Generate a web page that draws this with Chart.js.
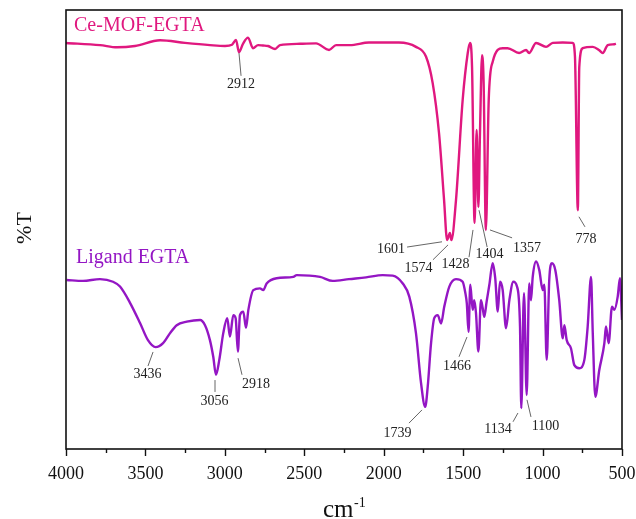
<!DOCTYPE html>
<html>
<head>
<meta charset="utf-8">
<script src="https://cdn.jsdelivr.net/npm/chart.js@4"></script>
<style>
html,body{margin:0;padding:0;background:#fff;}
#wrap{width:636px;height:519px;}
</style>
</head>
<body>
<div id="wrap"><canvas id="c" width="636" height="519"></canvas></div>
<script>
// ---- data (wavenumber cm-1, transmittance arbitrary %) ----
const mofWavenumber = [4000,3786,3679,3566,3408,3251,3094,2999,2955,2930,2911,2886,2854,2823,2791,2760,2728,2684,2653,2527,2426,2344,2300,2212,2093,1904,1797,1734,1692,1652,1620,1601,1583,1574,1545,1503,1471,1457,1444,1428,1415,1404,1394,1381,1371,1357,1339,1314,1251,1220,1148,1104,1085,1041,978,936,873,810,796,778,769,747,684,645,621,590,548,538];
const mofTransmittance = [92.5,92.0,91.5,91.8,93.1,92.5,92.0,91.8,92.1,93.2,90.4,92.3,93.7,91.3,92.0,91.9,91.8,91.1,92.0,92.3,92.4,90.9,92.0,92.0,92.6,92.6,91.6,89.4,83.4,72.0,56.7,47.6,49.2,47.6,56.7,79.5,90.2,92.5,87.0,51.5,72.7,55.1,72.0,89.7,83.4,49.9,79.5,88.2,91.3,91.3,90.2,90.9,90.2,92.5,91.6,92.5,92.6,92.5,89.3,54.4,87.0,91.3,91.6,90.9,90.2,92.0,92.2,92.3];

const ligandWavenumber = [3996,3893,3786,3704,3660,3597,3534,3484,3436,3389,3345,3303,3240,3156,3125,3094,3073,3056,3035,3010,2985,2968,2947,2932,2918,2905,2884,2867,2852,2821,2779,2758,2737,2674,2569,2548,2401,2321,2219,2111,2006,1943,1880,1839,1797,1765,1739,1723,1702,1682,1660,1639,1619,1587,1545,1503,1486,1477,1466,1455,1440,1430,1419,1404,1388,1377,1367,1352,1335,1314,1298,1282,1268,1251,1230,1209,1184,1161,1142,1134,1117,1100,1084,1073,1062,1041,1021,999,989,974,958,941,920,895,873,863,848,821,800,769,737,716,695,684,668,643,611,601,584,563,548,527,513,500];
const ligandTransmittance = [38.5,38.3,38.7,38.1,37.0,33.3,28.7,24.8,23.2,24.1,26.4,28.2,29.0,29.4,28.2,24.8,21.0,16.9,20.3,26.4,29.8,25.6,30.5,29.8,22.2,30.5,31.3,27.6,31.7,36.2,36.6,36.2,37.7,38.9,39.2,39.6,39.2,38.3,38.7,39.1,39.6,39.5,37.7,34.7,26.4,15.0,9.6,14.2,24.1,29.8,30.5,28.6,32.4,37.0,38.7,38.1,35.5,33.2,26.7,37.4,31.7,33.9,30.9,22.2,33.9,32.1,30.1,33.6,37.4,42.3,38.9,31.3,38.1,36.2,27.5,33.9,38.1,37.0,27.9,9.3,35.5,12.3,37.7,33.9,39.2,42.7,40.8,36.2,37.4,20.3,38.5,42.3,40.8,33.9,25.2,28.2,24.8,22.9,19.1,18.4,20.3,27.9,39.2,26.4,11.9,18.0,24.1,27.9,24.1,32.4,31.7,34.7,38.9,29.4];

const seriesNames = ['Ce-MOF-EGTA', 'Ligand EGTA'];
const xTickValues = [4000, 3500, 3000, 2500, 2000, 1500, 1000, 500];

const mofPeakLabels = ['2912','1601','1574','1428','1404','1357','778'];
const ligandPeakLabels = ['3436','3056','2918','1739','1466','1134','1100'];

// ---- annotation layout (data units: [wavenumber, T]) ----
const mofNotes = [
  {from:[2911,90.2], to:[2898,85.0], at:[2898,82.2], align:'center'},
  {from:[1633,47.2], to:[1853,46.0], at:[1866,44.6], align:'right'},
  {from:[1595,46.5], to:[1690,43.1], at:[1781,40.3], align:'center'},
  {from:[1438,49.9], to:[1463,43.7], at:[1548,41.2], align:'center'},
  {from:[1400,54.4], to:[1349,46.0], at:[1334,43.5], align:'center'},
  {from:[1331,49.9], to:[1192,48.1], at:[1186,44.9], align:'left'},
  {from:[771,52.9],  to:[733,50.6],  at:[727,46.9],  align:'center'}
];
const ligandNotes = [
  {from:[3452,22.1], to:[3484,18.9], at:[3487,16.2], align:'center'},
  {from:[3062,15.7], to:[3062,13.0], at:[3065,10.0], align:'center'},
  {from:[2917,20.7], to:[2892,16.9], at:[2804,13.9], align:'center'},
  {from:[1759,8.9],  to:[1841,5.9],  at:[1913,2.7],  align:'center'},
  {from:[1476,25.5], to:[1526,21.0], at:[1539,18.0], align:'center'},
  {from:[1155,8.2],  to:[1186,6.2],  at:[1281,3.6],  align:'center'},
  {from:[1098,11.2], to:[1073,7.3],  at:[982,4.3],   align:'center'}
];

const PINK = '#e0187f';
const PURPLE = '#9416c4';
const SERIF = '"Liberation Serif", "Times New Roman", serif';

function pts(xs, ys){ return xs.map((x,i)=>({x:x, y:ys[i]})); }

const decor = {
  id: 'decor',
  afterDraw(chart){
    const ctx = chart.ctx;
    const a = chart.chartArea;
    const xs = chart.scales.x, ys = chart.scales.y;
    ctx.save();
    // frame
    ctx.strokeStyle = '#111';
    ctx.lineWidth = 1.6;
    ctx.strokeRect(a.left, a.top, a.right - a.left, a.bottom - a.top);
    // ticks (major every 500, minor every 250)
    ctx.lineWidth = 1.4;
    for (let v = 500; v <= 4000; v += 250) {
      const px = Math.round(xs.getPixelForValue(v)) + 0.5;
      const len = (v % 500 === 0) ? 7 : 4;
      ctx.beginPath();
      ctx.moveTo(px, a.bottom);
      ctx.lineTo(px, a.bottom + len);
      ctx.stroke();
    }
    // annotations
    function drawNotes(notes, labels){
      notes.forEach((n, i) => {
        ctx.strokeStyle = '#555';
        ctx.lineWidth = 0.9;
        ctx.beginPath();
        ctx.moveTo(xs.getPixelForValue(n.from[0]), ys.getPixelForValue(n.from[1]));
        ctx.lineTo(xs.getPixelForValue(n.to[0]), ys.getPixelForValue(n.to[1]));
        ctx.stroke();
        ctx.fillStyle = '#222';
        ctx.font = '14px ' + SERIF;
        ctx.textAlign = n.align;
        ctx.textBaseline = 'alphabetic';
        ctx.fillText(labels[i], xs.getPixelForValue(n.at[0]), ys.getPixelForValue(n.at[1]));
      });
    }
    drawNotes(mofNotes, mofPeakLabels);
    drawNotes(ligandNotes, ligandPeakLabels);
    // series names
    ctx.textAlign = 'left';
    ctx.textBaseline = 'alphabetic';
    ctx.font = '20px ' + SERIF;
    ctx.fillStyle = PINK;
    ctx.fillText(seriesNames[0], a.left + 8, a.top + 21);
    ctx.fillStyle = PURPLE;
    ctx.fillText(seriesNames[1], a.left + 10, ys.getPixelForValue(42.4));
    // axis titles
    ctx.fillStyle = '#111';
    ctx.font = '25px ' + SERIF;
    ctx.textAlign = 'left';
    const cmX = 323, cmY = 517;
    ctx.fillText('cm', cmX, cmY);
    const w = ctx.measureText('cm').width;
    ctx.font = '14px ' + SERIF;
    ctx.fillText('-1', cmX + w + 0.5, cmY - 10);
    ctx.save();
    ctx.translate(31, 228);
    ctx.rotate(-Math.PI / 2);
    ctx.font = '22px ' + SERIF;
    ctx.textAlign = 'center';
    ctx.fillText('%T', 0, 0);
    ctx.restore();
    ctx.restore();
  }
};

new Chart(document.getElementById('c'), {
  type: 'line',
  data: {
    datasets: [
      {label: seriesNames[0], data: pts(mofWavenumber, mofTransmittance), borderColor: PINK, borderWidth: 2.4, pointRadius: 0, cubicInterpolationMode: 'monotone', fill: false},
      {label: seriesNames[1], data: pts(ligandWavenumber, ligandTransmittance), borderColor: PURPLE, borderWidth: 2.4, pointRadius: 0, cubicInterpolationMode: 'monotone', fill: false}
    ]
  },
  options: {
    responsive: false,
    animation: false,
    events: [],
    layout: {padding: {top: 10, right: 14, left: 0, bottom: 0}},
    plugins: {legend: {display: false}, tooltip: {enabled: false}},
    scales: {
      x: {
        type: 'linear',
        reverse: true,
        min: 500, max: 4000,
        grid: {display: false},
        border: {display: false},
        afterBuildTicks(s){ s.ticks = xTickValues.map(v => ({value: v})); },
        afterFit(s){ s.height = 70; s.paddingLeft = 0; s.paddingRight = 0; },
        ticks: {
          color: '#111',
          padding: 6,
          maxRotation: 0,
          autoSkip: false,
          font: {family: SERIF, size: 18},
          callback: (v) => String(v)
        }
      },
      y: {
        min: 0, max: 100,
        grid: {display: false},
        border: {display: false},
        ticks: {display: false},
        afterFit(s){ s.width = 66; }
      }
    }
  },
  plugins: [decor]
});
</script>
</body>
</html>
